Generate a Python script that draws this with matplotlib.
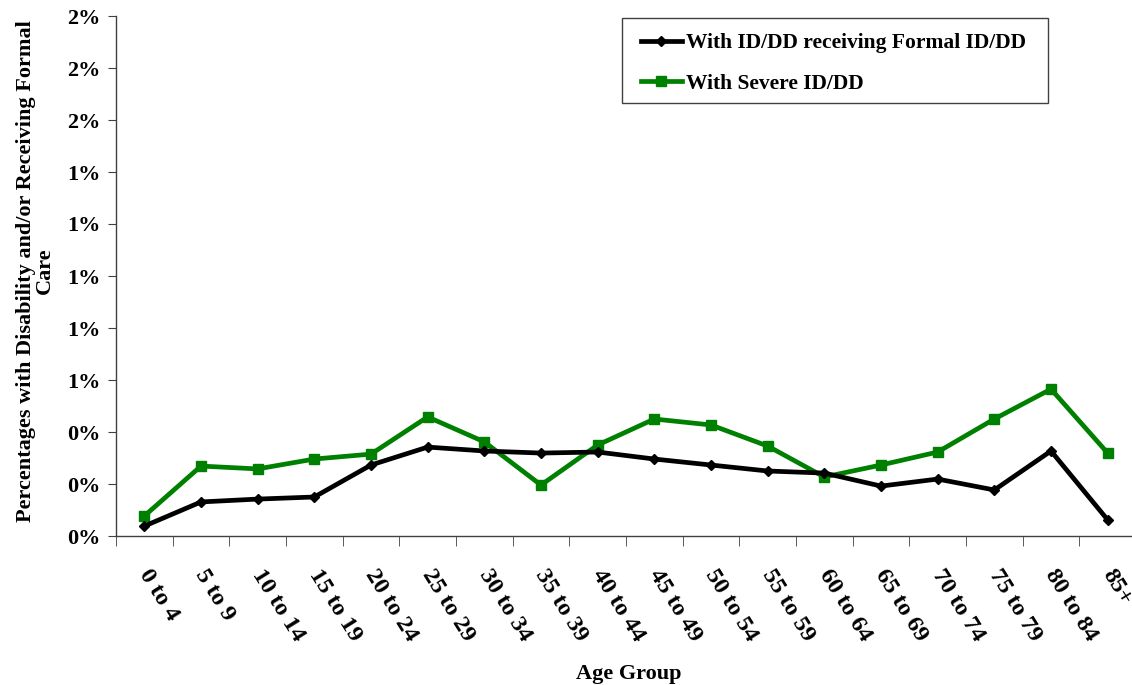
import matplotlib
matplotlib.use("Agg")
import matplotlib.pyplot as plt
from matplotlib.patches import Rectangle
from matplotlib.transforms import ScaledTranslation
from matplotlib.ticker import PercentFormatter, FixedLocator

age_groups = ["0 to 4", "5 to 9", "10 to 14", "15 to 19", "20 to 24", "25 to 29",
              "30 to 34", "35 to 39", "40 to 44", "45 to 49", "50 to 54", "55 to 59",
              "60 to 64", "65 to 69", "70 to 74", "75 to 79", "80 to 84", "85+"]
formal_care = [0.038, 0.131, 0.142, 0.150, 0.273, 0.342, 0.327, 0.319, 0.323, 0.296,
               0.273, 0.250, 0.242, 0.192, 0.219, 0.177, 0.327, 0.062]
severe = [0.077, 0.269, 0.258, 0.296, 0.315, 0.458, 0.362, 0.196, 0.350, 0.450,
          0.427, 0.346, 0.227, 0.273, 0.323, 0.450, 0.565, 0.319]

plt.rcParams['font.family'] = ['Liberation Serif', 'DejaVu Serif']
plt.rcParams['font.weight'] = 'bold'

W, H = 1132, 685
fig = plt.figure(figsize=(W / 100, H / 100), dpi=100)
ax = fig.add_axes([116/W, 149/H, 1020/W, 520/H])

x = list(range(len(age_groups)))
ax.plot(x, formal_care, color='black', lw=3.4, marker='D', ms=5.5,
        label='With ID/DD receiving Formal ID/DD', zorder=3)
ax.plot(x, severe, color='#008000', lw=3.4, marker='s', ms=7.5,
        label='With Severe ID/DD', zorder=2)

ax.set_xlim(-0.5, len(age_groups) - 0.5)
ax.set_ylim(0, 2.0)
ax.yaxis.set_major_locator(FixedLocator([i * 0.2 for i in range(11)]))
ax.yaxis.set_major_formatter(PercentFormatter(xmax=100, decimals=0))

ax.set_xticks(x)
ax.set_xticks([i - 0.5 for i in range(len(age_groups) + 1)], minor=True)
ax.tick_params(axis='x', which='major', length=0, pad=21)
ax.tick_params(axis='x', which='minor', length=7, direction='out', color='#404040')
ax.tick_params(axis='y', length=6, direction='out', color='#404040', labelsize=16, pad=5)
ax.set_xticklabels(age_groups, rotation=-58, ha='left', va='top',
                   rotation_mode='anchor', fontsize=17.5, fontweight='bold')
shift = ScaledTranslation(8 / 100, 0, fig.dpi_scale_trans)
for tick in ax.xaxis.get_major_ticks():
    tick.label1.set_transform(tick.label1.get_transform() + shift)
for lab in ax.get_yticklabels():
    lab.set_fontweight('bold')

for s in ['top', 'right']:
    ax.spines[s].set_visible(False)
for s in ['left', 'bottom']:
    ax.spines[s].set_color('#404040')
    ax.spines[s].set_linewidth(1.0)

ax.set_ylabel('Percentages with Disability and/or Receiving Formal\nCare',
              fontsize=16, fontweight='bold', linespacing=0.95)
ax.yaxis.set_label_coords(-0.060, 0.51)
ax.set_xlabel('Age Group', fontsize=16, fontweight='bold')
ax.xaxis.set_label_coords(0.503, -0.246)

# legend (frame drawn separately to match the reference padding)
leg = fig.legend(*ax.get_legend_handles_labels(), loc='upper left',
                 bbox_to_anchor=(641/W, 1 - 33/H), frameon=False, fontsize=15.5,
                 handlelength=1.9, handletextpad=0.2, borderpad=0.0,
                 labelspacing=0.95, borderaxespad=0)
for t in leg.get_texts():
    t.set_fontweight('bold')
fig.patches.append(Rectangle((622/W, 1 - 103/H), 426/W, 85/H, transform=fig.transFigure,
                             fill=False, edgecolor='#404040', linewidth=1.0, zorder=5))

fig.savefig('out.png', dpi=100)
